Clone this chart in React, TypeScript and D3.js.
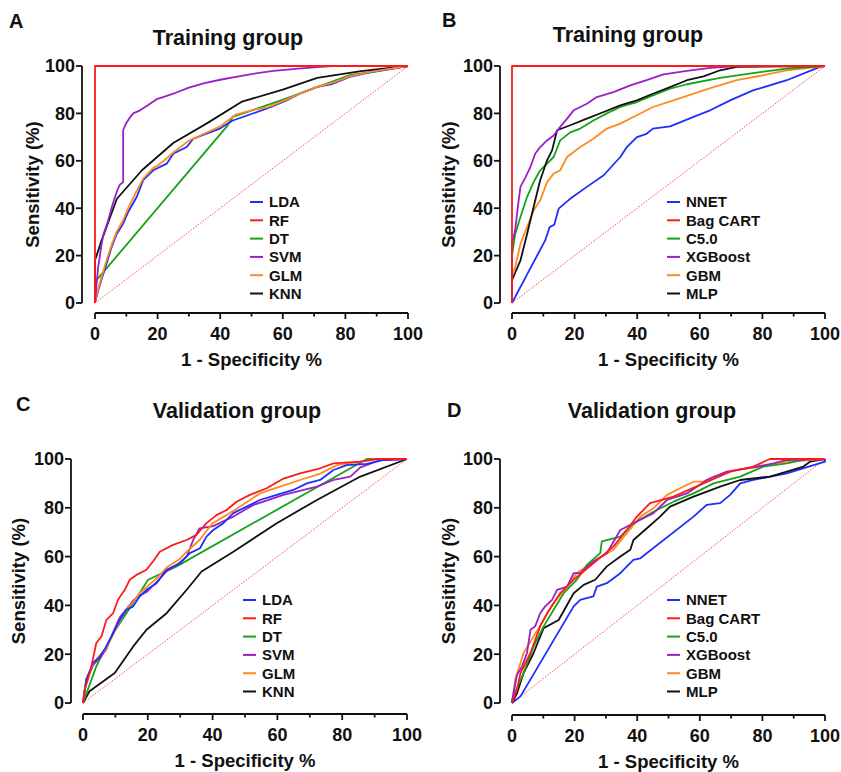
import React from "react";
import * as d3 from "d3";

type Pt = [number, number];

// ---- panel A: training group ----
const trainLDA: Pt[] = [[0,0],[1,5.3],[2.1,10],[3.7,16.6],[5.3,23.6],[6.9,29],[9,33.5],[10.6,38.4],[13.3,44.7],[15.4,51.8],[18.6,56],[22.9,58.8],[25,63],[29.3,65.8],[31.4,69.3],[35.6,71.4],[39.9,73.6],[44,77],[48.4,79],[54.8,82],[61.2,85.5],[65.4,88.3],[70.7,91.1],[76,92.5],[81.4,95.4],[86.7,97],[92,98.2],[100,100]];
const trainRF: Pt[] = [[0,0],[0,100],[100,100]];
const trainDT: Pt[] = [[0,0],[0,8.9],[42,74.3],[44,78.5],[61,86.2],[81,96],[100,100]];
const trainSVM: Pt[] = [[0,0],[0.5,8],[1,15],[2,24],[2.7,29],[4,34],[4.8,37.7],[5.5,41],[6.4,44.7],[7.4,48.5],[8,50],[9,51],[9,73],[10,76],[11,78],[12.2,80],[14.4,81.3],[17,83.5],[19.7,86],[22,87],[25,88.3],[30,90.9],[35,92.8],[40,94.2],[45,95.4],[50,96.6],[57,97.9],[65,98.9],[72,99.6],[76,100],[100,100]];
const trainGLM: Pt[] = [[0,0],[1,6],[2.1,11],[3.7,18],[5.3,24.5],[6.9,30],[9,35],[10.6,40],[13,46.5],[15.4,52.5],[18.6,57],[20,58],[22.9,61],[25,63.5],[30,68.5],[35,71.5],[40,74.5],[45,79.5],[50,81.3],[55,82.5],[61.2,85.8],[65.4,88.3],[70.7,91.1],[76,93],[81.4,95.6],[86.7,97.2],[92,98.4],[100,100]];
const trainKNN: Pt[] = [[0,0],[0,18],[2,26],[4.5,35],[7,44],[15,56],[25,67.5],[36,76],[47,85],[60,90],[71,95],[85,97.8],[100,100]];

// ---- panel B: training group ----
const trainNNET: Pt[] = [[0,0],[5,12.5],[10.6,26.4],[12,32],[13.5,33],[14.9,39.8],[18,43.3],[18.6,44],[23.9,49],[29.3,53.9],[34.6,61.6],[36.7,65.8],[39.9,70],[43,71.4],[45,73.6],[50.5,74.5],[52.7,75.7],[58,78.5],[63.3,81.3],[69.7,85.5],[77,89.7],[87.8,94],[98.4,99.6],[100,100]];
const trainBagCART: Pt[] = [[0,0],[0,100],[100,100]];
const trainC50: Pt[] = [[0,0],[0,20],[1,29],[2.7,36.3],[4.8,44.7],[6.9,51],[9,56],[13.3,61.6],[15.4,68.6],[18.6,72],[21.8,73.6],[26,77],[30.3,80],[34.6,82.7],[39.9,84.8],[45,87.6],[50.5,90.4],[55.9,92.3],[66.5,95],[77,97],[87.8,98.9],[100,100]];
const trainXGBoost: Pt[] = [[0,0],[0,25],[1,30.7],[2.1,43],[2.7,49],[4.3,53],[5.9,57.4],[7.4,63],[9,65.8],[11.2,68.6],[13.3,70.7],[15.4,74.3],[17.6,77.8],[19.7,81.3],[23.9,84.1],[27.1,86.9],[32.4,89],[37.8,91.8],[43,94],[48.4,96.5],[55.9,97.9],[63.3,99.2],[71.8,100],[100,100]];
const trainGBM: Pt[] = [[0,0],[0,12],[1,15],[2.7,25],[4.8,32],[6.9,39],[9,43.3],[11.2,51],[13.3,54.6],[15.4,56],[17.6,61.6],[21.8,65.8],[26,69.3],[30.3,73.6],[34.6,75.7],[39.9,79.2],[45,82.7],[51.6,85.5],[58,88.3],[64.4,91.1],[71.8,94],[80.3,96.1],[87.8,98.2],[100,100]];
const trainMLP: Pt[] = [[0,0],[0,9.6],[2.7,18],[4.8,29],[6.9,40.5],[9,51.8],[11.2,60.2],[12.8,64.4],[14.4,72.9],[18.6,75],[23.9,77.8],[29.3,80.6],[34.6,83.4],[39.9,85.5],[45,88.3],[50.5,91.1],[55.9,94],[61.2,95.6],[66.5,98.2],[71.8,99.6],[100,100]];

// ---- panel C: validation group ----
const validLDA: Pt[] = [[0,0],[1,9.5],[3.1,16.4],[5.2,19],[7.2,23.2],[9.3,28.6],[11.3,34],[13.4,38.2],[15.5,39.6],[17.5,43.7],[19.6,46.4],[22.7,49.1],[25.8,54.6],[29.9,57.3],[33,61.4],[36.1,63.4],[38.1,68.2],[40.2,70.9],[43.3,73.7],[46.4,77.8],[50.5,80.5],[54.6,83.2],[59.8,85.3],[64.9,87.3],[69.1,90],[73.2,91.4],[77.3,95.5],[81.4,97.5],[87.6,98],[92.8,99.6],[100,100]];
const validRF: Pt[] = [[0,0],[0.5,5.5],[1.5,9.5],[2.6,15],[4.1,24.6],[5.7,27.3],[7.2,34],[9.3,36.8],[10.8,42.3],[12.9,46.4],[14.4,50.5],[16.5,52.5],[19.6,54.6],[21.6,58],[23.7,62],[27.8,64.8],[32,66.8],[35,68.9],[38.1,73.7],[41.2,77],[44.3,79.1],[47.4,82.5],[51.5,85.3],[56.7,88],[61.9,92],[67,94.1],[73.2,96.2],[77.3,98.2],[85.6,98.9],[90.7,100],[100,100]];
const validDT: Pt[] = [[0,0],[4.1,15],[9.3,28.6],[15.5,41],[20.1,50.5],[28.9,56],[87.6,100],[100,100]];
const validSVM: Pt[] = [[0,0],[1,9],[3.1,15.5],[5.2,18.5],[7.2,22],[9.3,29],[11.3,35],[13.4,38.5],[15.5,42],[17.5,44],[19.6,45.5],[22.7,49.5],[25.8,54],[29.9,57.5],[32,60],[34,66.8],[36,71.6],[40.2,72.5],[43.3,74.5],[46.4,76.4],[52.6,81.2],[61.9,85.3],[72.2,88.7],[77.3,91.4],[82.5,92.8],[85.6,96.6],[91.8,99.6],[100,100]];
const validGLM: Pt[] = [[0,0],[1,10],[3.1,16],[5.2,19.5],[7.2,22.5],[9.3,28],[11.3,33.5],[13.4,38.5],[15.5,41.5],[17.5,45],[19.6,47.5],[22.7,51],[25.8,55.5],[29.9,59],[32,62],[36,66.8],[40,73.7],[44.3,77],[48.5,80.5],[54.6,85.9],[60.8,88.7],[67,91.4],[73.2,94],[78.4,97.5],[85.6,98.9],[90.7,100],[100,100]];
const validKNN: Pt[] = [[0,0],[2,4.8],[9.8,12.3],[15.5,23.2],[19.6,30],[25.8,36.8],[32,46.4],[36.6,53.9],[46.4,62],[59.8,73.7],[72.2,83.2],[85.6,92.8],[100,100]];

// ---- panel D: validation group ----
const validNNET: Pt[] = [[0,0],[2.7,2.7],[19.7,39.6],[21.8,42.3],[26,43.7],[27.1,47.7],[30.3,49.1],[34.6,53.2],[36.7,56],[38.8,58.7],[41,59.3],[58,76.4],[62.2,81.2],[66.5,81.9],[69.7,85.3],[72.9,90],[77.1,91.4],[87.8,94.1],[100,98.9],[100,100]];
const validBagCART: Pt[] = [[0,0],[1.6,5.5],[2.7,12.3],[5.9,20.5],[9,31.4],[11.2,36.8],[15.4,45],[19.7,50.5],[26,57.3],[32.4,64.1],[36.7,70.9],[39.9,76.4],[44.1,81.9],[51.6,84.6],[61.2,90],[69.7,94.8],[77.1,96.9],[82.4,100],[100,100]];
const validC50: Pt[] = [[0,0],[0,1.4],[3.7,12.3],[6.9,23.2],[10.1,31.4],[13.3,38.2],[16.5,45],[20.7,50.5],[23.9,56.6],[28.2,61.4],[28.7,66.2],[34.6,68.2],[38.8,73.7],[45.2,78.4],[51.6,82.5],[58,85.9],[64.4,90],[72.9,92.8],[80.3,96.9],[87.8,98.2],[94.1,100],[100,100]];
const validXGBoost: Pt[] = [[0,0],[0.5,4],[1.6,11.6],[3.2,15],[4.8,20.5],[5.9,30],[7.4,31.4],[9,36.8],[10.6,39.6],[12.8,42.3],[14.4,46.4],[17.6,47.7],[19.7,53.2],[21.8,53.2],[26,58],[30.3,61.4],[34.6,70.9],[39.9,74.4],[45.2,77.8],[49.5,83.2],[55.9,85.9],[62.2,91.4],[68.6,94.8],[77.1,96.6],[83.5,98.2],[87.8,99.6],[100,100]];
const validGBM: Pt[] = [[0,0],[1,9.5],[3.7,20.5],[6.9,27.3],[10.1,34],[13.3,41],[17.6,47.7],[20.7,53.2],[26,58],[32.4,62.8],[36.7,69.6],[41,76.4],[45.2,79.8],[49.5,85.3],[53.7,88],[58,90.7],[61.2,90.7],[64.4,92.8],[71.8,95.5],[79.3,96.9],[87.8,98.9],[100,100]];
const validMLP: Pt[] = [[0,0],[1.6,4],[3.7,12.3],[6.9,20.5],[10.1,30.7],[14.9,34],[19.7,45],[22.9,48.4],[26.6,50.5],[30.3,56],[34.6,60],[37.8,62.8],[38.8,66.8],[43.1,71.6],[47.3,76.4],[50.5,80.5],[58,84.6],[66.5,88.7],[72.9,91.4],[82.4,92.8],[87.8,94.8],[93.1,96.9],[95.2,98.9],[100,100]];

const namesLeft = ["LDA", "RF", "DT", "SVM", "GLM", "KNN"];
const namesRight = ["NNET", "Bag CART", "C5.0", "XGBoost", "GBM", "MLP"];
const colors = ["#1f2eff", "#ff1a1a", "#16a316", "#9b1fc9", "#ff8a1f", "#111111"];
const yTicks = [0, 20, 40, 60, 80, 100];
const xTicks = [0, 10, 20, 30, 40, 50, 60, 70, 80, 90, 100];

const font = "'Liberation Sans', Arial, Helvetica, sans-serif";

type PanelProps = {
  letter: string;
  title: string;
  names: string[];
  series: Pt[][];
  drawOrder: number[];
  x0: number; x1: number; yBot: number; yTop: number;
  yAxisX: number; xAxisY: number;
  letterX: number; letterY: number;
  titleX: number; titleY: number;
  yLabelX: number;
  legendX: number; legendY: number;
};

function Panel(p: PanelProps) {
  const x = d3.scaleLinear().domain([0, 100]).range([p.x0, p.x1]);
  const y = d3.scaleLinear().domain([0, 100]).range([p.yBot, p.yTop]);
  const line = d3.line<Pt>().x(d => x(d[0])).y(d => y(d[1]));
  const rowH = 18.3;

  return (
    <g fontFamily={font} fontWeight="bold" fill="#111">
      <text x={p.letterX} y={p.letterY} fontSize={20}>{p.letter}</text>
      <text x={p.titleX} y={p.titleY} fontSize={21.5} textAnchor="middle">{p.title}</text>

      {/* diagonal reference */}
      <path d={line([[0, 0], [100, 100]]) || ""} stroke="#ff4d4d" strokeWidth={1} strokeDasharray="1.5,1.5" fill="none" />

      {p.drawOrder.map(i => (
        <path key={i} d={line(p.series[i]) || ""} stroke={colors[i]} strokeWidth={1.8} fill="none" strokeLinejoin="round" />
      ))}

      {/* y axis */}
      <line x1={p.yAxisX} x2={p.yAxisX} y1={y(0)} y2={y(100)} stroke="#111" strokeWidth={1.8} />
      {yTicks.map(t => (
        <g key={t}>
          <line x1={p.yAxisX - 6} x2={p.yAxisX} y1={y(t)} y2={y(t)} stroke="#111" strokeWidth={1.8} />
          <text x={p.yAxisX - 7} y={y(t)} dy="0.36em" fontSize={18} textAnchor="end">{t}</text>
        </g>
      ))}
      <text transform={`translate(${p.yLabelX},${(y(0) + y(100)) / 2}) rotate(-90)`} fontSize={18.5} textAnchor="middle" dy="0.36em">Sensitivity (%)</text>

      {/* x axis */}
      <line x1={x(0)} x2={x(100)} y1={p.xAxisY} y2={p.xAxisY} stroke="#111" strokeWidth={1.8} />
      {xTicks.map(t => (
        <g key={t}>
          <line x1={x(t)} x2={x(t)} y1={p.xAxisY} y2={p.xAxisY + (t % 20 === 0 ? 6 : 3.5)} stroke="#111" strokeWidth={1.8} />
          {t % 20 === 0 && (
            <text x={x(t)} y={p.xAxisY + 27} fontSize={18} textAnchor="middle">{t}</text>
          )}
        </g>
      ))}
      <text x={(x(0) + x(100)) / 2} y={p.xAxisY + 53} fontSize={18.5} textAnchor="middle">1 - Specificity %</text>

      {/* legend */}
      {p.names.map((n, i) => (
        <g key={n} transform={`translate(${p.legendX},${p.legendY + i * rowH})`}>
          <line x1={0} x2={13} y1={0} y2={0} stroke={colors[i]} strokeWidth={2} />
          <text x={19} y={0} dy="0.36em" fontSize={15}>{n}</text>
        </g>
      ))}
    </g>
  );
}

export default function App() {
  return (
    <svg width={841} height={772} style={{ display: "block", position: "absolute", left: 0, top: 0, background: "#fff" }}>
      <rect width={841} height={772} fill="#fff" />
      <Panel letter="A" title="Training group" names={namesLeft}
        series={[trainLDA, trainRF, trainDT, trainSVM, trainGLM, trainKNN]}
        drawOrder={[2, 5, 0, 4, 3, 1]}
        x0={95} x1={408} yBot={303} yTop={66} yAxisX={82} xAxisY={313}
        letterX={9} letterY={28} titleX={228} titleY={45} yLabelX={32}
        legendX={250} legendY={202} />
      <Panel letter="B" title="Training group" names={namesRight}
        series={[trainNNET, trainBagCART, trainC50, trainXGBoost, trainGBM, trainMLP]}
        drawOrder={[0, 4, 2, 5, 3, 1]}
        x0={512} x1={825} yBot={303} yTop={66} yAxisX={500} xAxisY={313}
        letterX={442} letterY={27} titleX={628} titleY={42} yLabelX={448}
        legendX={667} legendY={202} />
      <Panel letter="C" title="Validation group" names={namesLeft}
        series={[validLDA, validRF, validDT, validSVM, validGLM, validKNN]}
        drawOrder={[5, 2, 3, 4, 0, 1]}
        x0={83} x1={407} yBot={703} yTop={459} yAxisX={71} xAxisY={714}
        letterX={16} letterY={411} titleX={237} titleY={418} yLabelX={18}
        legendX={243} legendY={600} />
      <Panel letter="D" title="Validation group" names={namesRight}
        series={[validNNET, validBagCART, validC50, validXGBoost, validGBM, validMLP]}
        drawOrder={[0, 5, 4, 2, 3, 1]}
        x0={512} x1={825} yBot={703} yTop={459} yAxisX={500} xAxisY={715}
        letterX={447} letterY={417} titleX={652} titleY={418} yLabelX={448}
        legendX={667} legendY={600} />
    </svg>
  );
}
